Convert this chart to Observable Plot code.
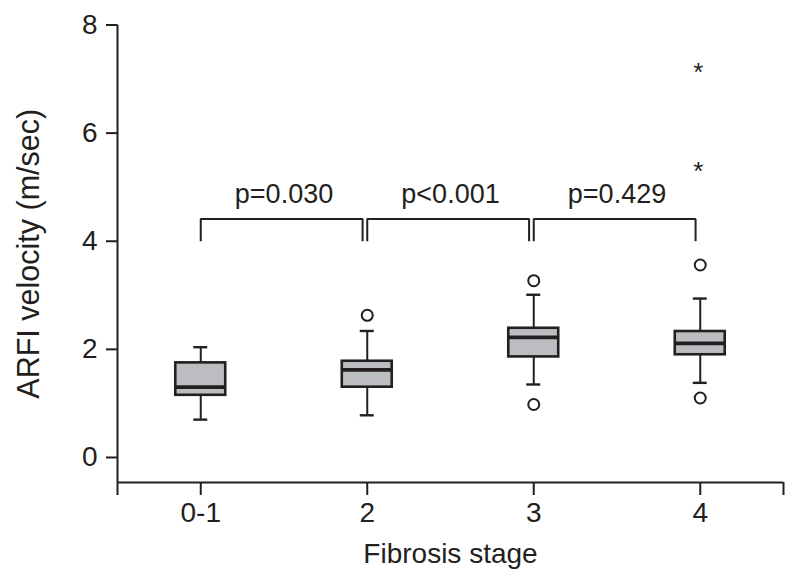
<!DOCTYPE html>
<html><head><meta charset="utf-8">
<script src="https://cdn.jsdelivr.net/npm/d3@7"></script>
<script src="https://cdn.jsdelivr.net/npm/@observablehq/plot@0.6"></script>
<style>body{margin:0;background:#fff}</style>
</head><body><div id="chart"></div>
<script>
// ---- data ----
const categories = ["0-1", "2", "3", "4"];
const whiskerLow  = [0.70, 0.78, 1.35, 1.38];
const q1          = [1.15, 1.30, 1.86, 1.90];
const median      = [1.30, 1.62, 2.22, 2.11];
const q3          = [1.75, 1.78, 2.39, 2.33];
const whiskerHigh = [2.04, 2.34, 3.01, 2.94];
const outlierGroup = ["2", "3", "3", "4", "4"];
const outlierValue = [2.63, 3.27, 0.98, 3.56, 1.10];
const extremeGroup = ["4", "4"];
const extremeValue = [7.18, 5.35];
const pLabels = ["p=0.030", "p<0.001", "p=0.429"];
const bracketBase = [4.0, 4.0, 4.0];
const bracketTop = [4.41, 4.41, 4.41];
const pLabelY = [4.71, 4.71, 4.71];
const yTicks = [0, 2, 4, 6, 8];
const yLabel = "ARFI velocity (m/sec)";
const xLabel = "Fibrosis stage";

// ---- build tables ----
const idx = (c) => categories.indexOf(c);
const boxes = categories.map((c, i) => ({i, lo: whiskerLow[i], q1: q1[i], med: median[i], q3: q3[i], hi: whiskerHigh[i]}));
const outliers = outlierGroup.map((g, k) => ({i: idx(g), v: outlierValue[k]}));
const extremes = extremeGroup.map((g, k) => ({i: idx(g), v: extremeValue[k]}));
const brackets = pLabels.flatMap((p, k) => [
  {k, x: k, y: bracketBase[k]},
  {k, x: k, y: bracketTop[k]},
  {k, x: k + 1, y: bracketTop[k], right: true},
  {k, x: k + 1, y: bracketBase[k], right: true}
]);
const pText = pLabels.map((p, k) => ({x: k + 0.5, y: pLabelY[k], p}));

const INK = "#231f20";
const BOX = 0.15;   // half box width in band units
const CAP = 0.042;  // half cap width
const GAP = 0.028;  // bracket right-end gap
const FONT = "'Liberation Sans', Arial, Helvetica, sans-serif";

const chart = Plot.plot({
  width: 795,
  height: 586,
  marginLeft: 117,
  marginRight: 12,
  marginTop: 24.5,
  marginBottom: 104,
  style: {fontFamily: FONT, color: INK, background: "#fff"},
  x: {type: "linear", domain: [-0.5, 3.5]},
  y: {domain: [-0.463, 8]},
  marks: [
    Plot.axisY({ticks: yTicks, tickSize: 11, tickPadding: 9, fontSize: 28, strokeWidth: 2, label: null}),
    Plot.axisY({ticks: [], fontSize: 30.5,
      label: yLabel, labelAnchor: "center", labelOffset: 100, labelArrow: "none"}),
    Plot.axisX({ticks: [-0.5, 0, 1, 2, 3, 3.5],
      tickFormat: (d) => Number.isInteger(d) ? categories[d] : "",
      tickSize: 13, tickPadding: 7, fontSize: 28, strokeWidth: 2,
      label: xLabel, labelAnchor: "center", labelOffset: 80, labelArrow: "none"}),
    Plot.ruleX([-0.5], {y1: -0.463, y2: 8, stroke: INK, strokeWidth: 2}),
    Plot.ruleY([-0.463], {x1: -0.5, x2: 3.5, stroke: INK, strokeWidth: 2.2}),
    // whiskers
    Plot.ruleX(boxes, {x: "i", y1: "q3", y2: "hi", stroke: INK, strokeWidth: 2}),
    Plot.ruleX(boxes, {x: "i", y1: "lo", y2: "q1", stroke: INK, strokeWidth: 2}),
    Plot.ruleY(boxes, {y: "hi", x1: (d) => d.i - CAP, x2: (d) => d.i + CAP, stroke: INK, strokeWidth: 2.4}),
    Plot.ruleY(boxes, {y: "lo", x1: (d) => d.i - CAP, x2: (d) => d.i + CAP, stroke: INK, strokeWidth: 2.4}),
    // boxes
    Plot.rect(boxes, {x1: (d) => d.i - BOX, x2: (d) => d.i + BOX, y1: "q1", y2: "q3",
      fill: "#bcbdc0", stroke: INK, strokeWidth: 2.6}),
    Plot.ruleY(boxes, {y: "med", x1: (d) => d.i - BOX, x2: (d) => d.i + BOX, stroke: INK, strokeWidth: 3.8}),
    // outliers
    Plot.dot(outliers, {x: "i", y: "v", r: 5.5, stroke: INK, strokeWidth: 2, fill: "#fff"}),
    Plot.text(extremes, {x: "i", y: "v", text: () => "*", fontSize: 26, dy: 3, dx: -2, fill: INK}),
    // brackets
    Plot.line(brackets, {x: (d) => d.right ? d.x - GAP : d.x, y: "y", z: "k", stroke: INK, strokeWidth: 2,
      strokeLinejoin: "miter", strokeLinecap: "butt"}),
    Plot.text(pText, {x: "x", y: "y", text: "p", fontSize: 27, lineAnchor: "bottom", fill: INK})
  ]
});
document.getElementById("chart").append(chart);
</script>
</body></html>
